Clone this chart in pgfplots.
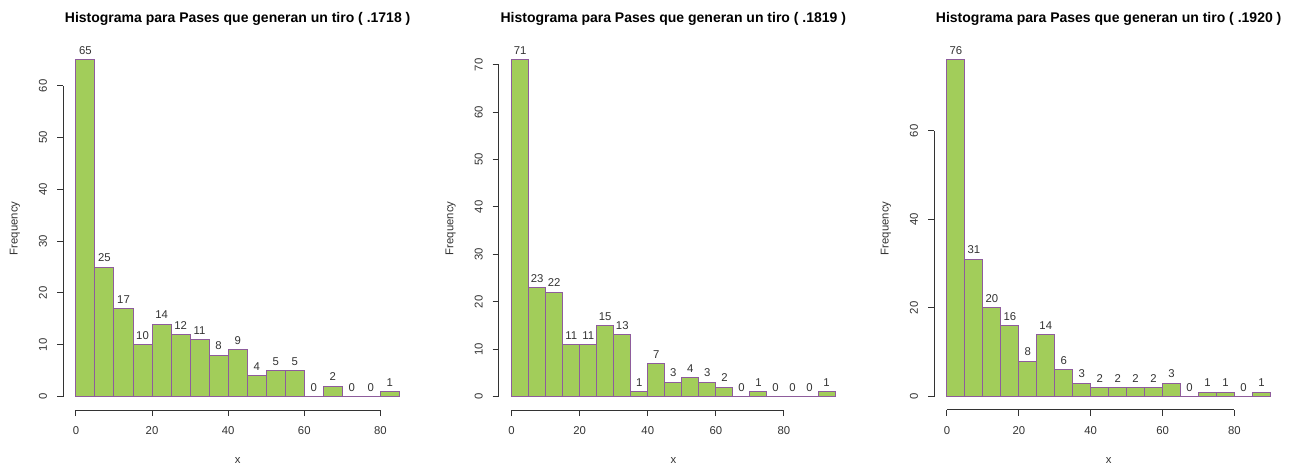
\documentclass[border=0pt]{standalone}
\usepackage{fontspec}
\setmainfont{Liberation Sans}
\usepackage{pgfplots}
\usepackage{pgfplotstable}
\pgfplotsset{compat=1.18}

\definecolor{barfill}{HTML}{A2CD5A}
\definecolor{baredge}{HTML}{8E5C9C}
\definecolor{axisgray}{HTML}{333333}

% bin left edges (width 5) and counts; the last row closes the final interval
\pgfplotstableread{
x  y
0  65
5  25
10 17
15 10
20 14
25 12
30 11
35 8
40 9
45 4
50 5
55 5
60 0
65 2
70 0
75 0
80 1
85 0
}\histA

\pgfplotstableread{
x  y
0  71
5  23
10 22
15 11
20 11
25 15
30 13
35 1
40 7
45 3
50 4
55 3
60 2
65 0
70 1
75 0
80 0
85 0
90 1
95 0
}\histB

\pgfplotstableread{
x  y
0  76
5  31
10 20
15 16
20 8
25 14
30 6
35 3
40 2
45 2
50 2
55 2
60 3
65 0
70 1
75 1
80 0
85 1
90 0
}\histC

\pgfplotsset{
  rhist/.style={
    scale only axis,
    width=262pt, height=272.6pt,
    anchor=north west,
    clip=false,
    axis line style={draw=none},
    tick align=outside,
    xtick pos=left, ytick pos=left,
    major tick length=4.5pt,
    tick style={axisgray, line width=0.75pt},
    xtick={0,20,40,60,80},
    ticklabel style={font=\fontsize{8.5}{10}\selectfont, text=axisgray},
    /pgf/number format/assume math mode=true,
    xticklabel style={anchor=center},
    xticklabel shift=11.25pt,
    yticklabel style={rotate=90, anchor=center},
    yticklabel shift=10.5pt,
    label style={font=\fontsize{8.5}{10}\selectfont, text=axisgray},
    xlabel={x}, ylabel={Frequency},
    xlabel style={at={(axis description cs:0.5,-0.1376)}, anchor=center},
    ylabel style={at={(axis description cs:-0.1374,0.5)}, anchor=center},
    % cancel the default 6pt lift of the title
    title style={at={(axis description cs:0.5,1.0757)}, anchor=center, yshift=-6pt,
                 font=\bfseries\fontsize{10.5}{12}\selectfont},
  },
  bars/.style={ybar interval, fill=barfill, draw=baredge, line width=0.75pt},
  counts/.style={draw=none, mark=none, nodes near coords, point meta=y,
    every node near coord/.append style={anchor=south, inner sep=0pt, yshift=3.75pt,
      font=\fontsize{8.5}{10}\selectfont, text=axisgray}},
}

\begin{document}
\begin{tikzpicture}
\path[use as bounding box] (0,0) rectangle (969.75pt,-351pt);

% ---- 2017/18 ----
\begin{axis}[rhist, at={(47.25pt,-34.9pt)},
  xmin=-3.4, xmax=88.4, ymin=-2.6, ymax=67.6,
  ytick={0,10,...,60},
  title={Histograma para Pases que generan un tiro ( .1718 )}]
\addplot[bars] table[x=x, y=y] {\histA};
\addplot[counts] table[x expr=\thisrow{x}+2.5, y=y, skip coords between index={17}{18}] {\histA};
\draw[axisgray, line width=0.75pt] (axis cs:0,-2.6) -- (axis cs:80,-2.6);
\draw[axisgray, line width=0.75pt] (axis cs:-3.4,0) -- (axis cs:-3.4,60);
\end{axis}

% ---- 2018/19 ----
\begin{axis}[rhist, at={(374.0pt,-34.9pt)},
  xmin=-3.8, xmax=98.8, ymin=-2.84, ymax=73.84,
  ytick={0,10,...,70},
  title={Histograma para Pases que generan un tiro ( .1819 )}]
\addplot[bars] table[x=x, y=y] {\histB};
\addplot[counts] table[x expr=\thisrow{x}+2.5, y=y, skip coords between index={19}{20}] {\histB};
\draw[axisgray, line width=0.75pt] (axis cs:0,-2.84) -- (axis cs:80,-2.84);
\draw[axisgray, line width=0.75pt] (axis cs:-3.8,0) -- (axis cs:-3.8,70);
\end{axis}

% ---- 2019/20 ----
\begin{axis}[rhist, at={(700.5pt,-34.9pt)},
  xmin=-3.6, xmax=93.6, ymin=-3.04, ymax=79.04,
  ytick={0,20,40,60},
  title={Histograma para Pases que generan un tiro ( .1920 )}]
\addplot[bars] table[x=x, y=y] {\histC};
\addplot[counts] table[x expr=\thisrow{x}+2.5, y=y, skip coords between index={18}{19}] {\histC};
\draw[axisgray, line width=0.75pt] (axis cs:0,-3.04) -- (axis cs:80,-3.04);
\draw[axisgray, line width=0.75pt] (axis cs:-3.6,0) -- (axis cs:-3.6,60);
\end{axis}
\end{tikzpicture}
\end{document}
